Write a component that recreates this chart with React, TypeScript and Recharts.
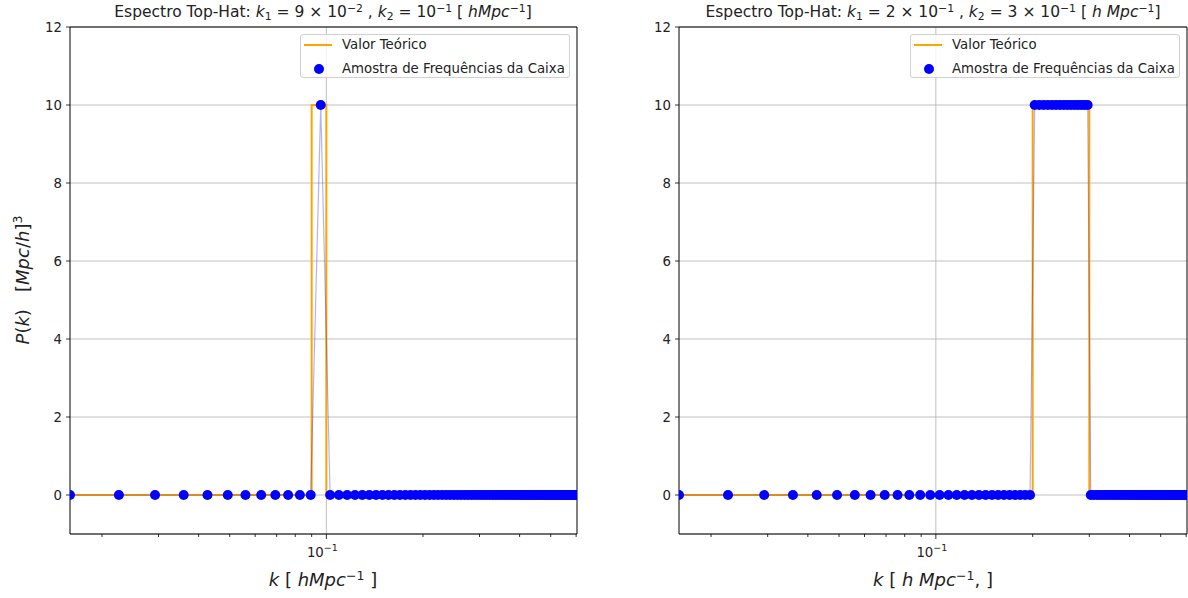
import React from "react";
import {
  ComposedChart,
  Line,
  XAxis,
  YAxis,
  CartesianGrid,
  ReferenceLine,
  Legend,
} from "recharts";

// k amostrados da caixa [h/Mpc]
const K_SAMPLES = [
  0.0159, 0.02258, 0.02926, 0.03594, 0.04262, 0.0493, 0.05598, 0.06266, 0.06934, 0.07602,
  0.0827, 0.08938, 0.09606, 0.10274, 0.10942, 0.1161, 0.12278, 0.12946, 0.13614, 0.14282,
  0.1495, 0.15618, 0.16286, 0.16954, 0.17622, 0.1829, 0.18958, 0.19626, 0.20294, 0.20962,
  0.2163, 0.22298, 0.22966, 0.23634, 0.24302, 0.2497, 0.25638, 0.26306, 0.26974, 0.27642,
  0.2831, 0.28978, 0.29646, 0.30314, 0.30982, 0.3165, 0.32318, 0.32986, 0.33654, 0.34322,
  0.3499, 0.35658, 0.36326, 0.36994, 0.37662, 0.3833, 0.38998, 0.39666, 0.40334, 0.41002,
  0.4167, 0.42338, 0.43006, 0.43674, 0.44342, 0.4501, 0.45678, 0.46346, 0.47014, 0.47682,
  0.4835, 0.49018, 0.49686, 0.50354, 0.51022, 0.5169, 0.52358, 0.53026, 0.53694, 0.54362,
  0.5503, 0.55698, 0.56366, 0.57034, 0.57702, 0.5837, 0.59038, 0.59706, 0.60374,
];

// P(k) amostrado, painel esquerdo (k1 = 0.09, k2 = 0.1)
const P_LEFT = [
  0, 0, 0, 0, 0, 0, 0, 0, 0, 0,
  0, 0, 10, 0, 0, 0, 0, 0, 0, 0,
  0, 0, 0, 0, 0, 0, 0, 0, 0, 0,
  0, 0, 0, 0, 0, 0, 0, 0, 0, 0,
  0, 0, 0, 0, 0, 0, 0, 0, 0, 0,
  0, 0, 0, 0, 0, 0, 0, 0, 0, 0,
  0, 0, 0, 0, 0, 0, 0, 0, 0, 0,
  0, 0, 0, 0, 0, 0, 0, 0, 0, 0,
  0, 0, 0, 0, 0, 0, 0, 0, 0,
];

// P(k) amostrado, painel direito (k1 = 0.2, k2 = 0.3)
const P_RIGHT = [
  0, 0, 0, 0, 0, 0, 0, 0, 0, 0,
  0, 0, 0, 0, 0, 0, 0, 0, 0, 0,
  0, 0, 0, 0, 0, 0, 0, 0, 10, 10,
  10, 10, 10, 10, 10, 10, 10, 10, 10, 10,
  10, 10, 10, 0, 0, 0, 0, 0, 0, 0,
  0, 0, 0, 0, 0, 0, 0, 0, 0, 0,
  0, 0, 0, 0, 0, 0, 0, 0, 0, 0,
  0, 0, 0, 0, 0, 0, 0, 0, 0, 0,
  0, 0, 0, 0, 0, 0, 0, 0, 0,
];

// valor teórico (top-hat)
const K_THEORY_LEFT = [0.0159, 0.09, 0.09, 0.1, 0.1, 0.60374];
const P_THEORY_LEFT = [0, 0, 10, 10, 0, 0];
const K_THEORY_RIGHT = [0.0159, 0.2, 0.2, 0.3, 0.3, 0.60374];
const P_THEORY_RIGHT = [0, 0, 10, 10, 0, 0];

const X_TICKS = [0.02, 0.03, 0.04, 0.05, 0.06, 0.07, 0.08, 0.09, 0.1, 0.2, 0.3, 0.4, 0.5, 0.6];
const Y_TICKS = [0, 2, 4, 6, 8, 10, 12];

const FONT = "'DejaVu Sans', sans-serif";
const ORANGE = "#ffa500";
const BLUE = "#0000ff";
const W = 594;
const H = 598;

function XTick(props: any) {
  const { x, y, payload } = props;
  const major = payload.value === 0.1;
  return (
    <g>
      <line x1={x} x2={x} y1={y} y2={y + (major ? 5 : 3)} stroke="#000" strokeWidth={0.8} />
      {major && (
        <text x={x - 4} y={y + 23} textAnchor="middle" fontSize={13.3} fill="#222" fontFamily={FONT}>
          10
          <tspan dy={-6} fontSize={9.5}>
            −1
          </tspan>
        </text>
      )}
    </g>
  );
}

function LegendBox() {
  return (
    <div
      style={{
        width: 270,
        height: 44,
        border: "1px solid #d0d0d0",
        borderRadius: 3,
        background: "rgba(255,255,255,0.8)",
        fontFamily: FONT,
        fontSize: 13.3,
        color: "#222",
        position: "relative",
        boxSizing: "border-box",
      }}
    >
      <svg width={40} height={44} style={{ position: "absolute", left: 0, top: 0 }}>
        <line x1={3} x2={31} y1={10} y2={10} stroke={ORANGE} strokeWidth={2} />
        <circle cx={18} cy={34} r={5} fill={BLUE} />
      </svg>
      <div style={{ position: "absolute", left: 41, top: 2, lineHeight: "16px" }}>Valor Teórico</div>
      <div style={{ position: "absolute", left: 41, top: 26, lineHeight: "16px" }}>
        Amostra de Frequências da Caixa
      </div>
    </div>
  );
}

function Panel({
  pk,
  kTheory,
  pTheory,
  yAxisWidth,
  marginRight,
}: {
  pk: number[];
  kTheory: number[];
  pTheory: number[];
  yAxisWidth: number;
  marginRight: number;
}) {
  const samples = K_SAMPLES.map((k, i) => ({ k, p: pk[i] }));
  const theory = kTheory.map((k, i) => ({ k, p: pTheory[i] }));
  const kMin = K_SAMPLES[0];
  const kMax = K_SAMPLES[K_SAMPLES.length - 1];

  return (
    <ComposedChart
      width={W}
      height={H}
      margin={{ top: 27, right: marginRight, bottom: 0, left: 0 }}
      style={{ fontFamily: FONT }}
    >
      <CartesianGrid vertical={false} stroke="#b0b0b0" strokeWidth={0.8} />
      <ReferenceLine x={0.1} stroke="#b0b0b0" strokeWidth={0.8} />
      {/* moldura superior e direita */}
      <ReferenceLine y={12} stroke="#000" strokeWidth={1} />
      <ReferenceLine x={kMax} stroke="#000" strokeWidth={1} />
      <XAxis
        dataKey="k"
        type="number"
        scale="log"
        domain={[kMin, kMax]}
        allowDataOverflow
        ticks={X_TICKS}
        interval={0}
        height={64}
        tickSize={0}
        tickMargin={0}
        tickLine={false}
        axisLine={{ stroke: "#000", strokeWidth: 1 }}
        tick={<XTick />}
      />
      <YAxis
        type="number"
        domain={[-1, 12]}
        ticks={Y_TICKS}
        interval={0}
        width={yAxisWidth}
        tickSize={4}
        tickMargin={4}
        tickLine={{ stroke: "#000", strokeWidth: 0.8 }}
        axisLine={{ stroke: "#000", strokeWidth: 1 }}
        tick={{ fontSize: 13.3, fill: "#222", fontFamily: FONT }}
        allowDataOverflow
      />
      <Legend
        layout="horizontal"
        verticalAlign="middle"
        align="center"
        wrapperStyle={{ top: 34, right: marginRight + 7, left: "auto", width: 270 }}
        content={() => <LegendBox />}
      />
      <Line
        data={samples}
        dataKey="p"
        stroke="none"
        dot={{ r: 5, fill: BLUE, stroke: "none" }}
        activeDot={false}
        legendType="circle"
        isAnimationActive={false}
        zIndex={300}
      />
      <Line
        data={theory}
        dataKey="p"
        stroke={ORANGE}
        strokeWidth={2}
        dot={false}
        activeDot={false}
        isAnimationActive={false}
        zIndex={450}
      />
      <Line
        data={samples}
        dataKey="p"
        stroke={BLUE}
        strokeOpacity={0.3}
        strokeWidth={1.2}
        dot={false}
        activeDot={false}
        legendType="none"
        isAnimationActive={false}
        zIndex={460}
      />
    </ComposedChart>
  );
}

const txt: React.CSSProperties = {
  position: "absolute",
  fontFamily: FONT,
  color: "#222",
  whiteSpace: "nowrap",
  lineHeight: 1,
};

function Sup({ children }: { children: React.ReactNode }) {
  return <span style={{ fontSize: "0.7em", verticalAlign: "0.5em" }}>{children}</span>;
}
function Sub({ children }: { children: React.ReactNode }) {
  return <span style={{ fontSize: "0.7em", verticalAlign: "-0.25em" }}>{children}</span>;
}

export default function App() {
  return (
    <div style={{ position: "absolute", left: 0, top: 0, width: 1188, height: 598, background: "#fff" }}>
      <div style={{ position: "absolute", left: 0, top: 0 }}>
        <Panel pk={P_LEFT} kTheory={K_THEORY_LEFT} pTheory={P_THEORY_LEFT} yAxisWidth={70} marginRight={17} />
      </div>
      <div style={{ position: "absolute", left: 594, top: 0 }}>
        <Panel pk={P_RIGHT} kTheory={K_THEORY_RIGHT} pTheory={P_THEORY_RIGHT} yAxisWidth={85} marginRight={1} />
      </div>

      {/* títulos */}
      <div style={{ ...txt, left: 323, top: 4, fontSize: 15.5, transform: "translateX(-50%)" }}>
        Espectro Top-Hat: <i>k</i>
        <Sub>1</Sub> = 9 × 10<Sup>−2</Sup> , <i>k</i>
        <Sub>2</Sub> = 10<Sup>−1</Sup> [ <i>hMpc</i>
        <Sup>−1</Sup>]
      </div>
      <div style={{ ...txt, left: 933, top: 4, fontSize: 15.5, transform: "translateX(-50%)" }}>
        Espectro Top-Hat: <i>k</i>
        <Sub>1</Sub> = 2 × 10<Sup>−1</Sup> , <i>k</i>
        <Sub>2</Sub> = 3 × 10<Sup>−1</Sup> [ <i>h Mpc</i>
        <Sup>−1</Sup>]
      </div>

      {/* rótulos dos eixos */}
      <div style={{ ...txt, left: 323, top: 570, fontSize: 18, transform: "translateX(-50%)" }}>
        <i>k</i> [ <i>hMpc</i>
        <Sup>−1</Sup> ]
      </div>
      <div style={{ ...txt, left: 933, top: 570, fontSize: 18, transform: "translateX(-50%)" }}>
        <i>k</i> [ <i>h Mpc</i>
        <Sup>−1</Sup>, ]
      </div>
      <div
        style={{
          ...txt,
          left: 22,
          top: 280,
          fontSize: 18,
          transform: "translate(-50%, -50%) rotate(-90deg)",
        }}
      >
        <i>P</i>(<i>k</i>)&nbsp;&nbsp;&nbsp;[<i>Mpc</i>/<i>h</i>]<Sup>3</Sup>
      </div>
    </div>
  );
}
